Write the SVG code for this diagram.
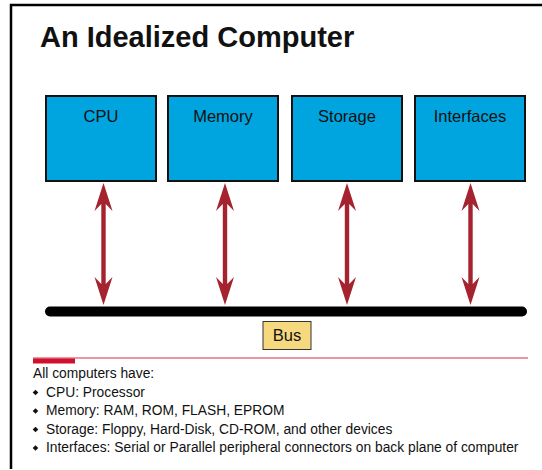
<svg xmlns="http://www.w3.org/2000/svg" xmlns:xlink="http://www.w3.org/1999/xlink" width="542" height="470" viewBox="0 0 542 470">
<style>
text{font-family:"Liberation Sans",Arial,sans-serif;fill:#111}
.title{font-size:29px;font-weight:bold}
.box{fill:#00A4DE;stroke:#111;stroke-width:2}
.lbl{font-size:16.5px;text-anchor:middle}
.arrow{fill:#A5232F}
.note{font-size:13.8px}
.bul{fill:#111}
</style>
<defs>
<path id="dbl" d="M0,183 L9,211 L2.2,204 L2.2,284 L9,277 L0,305 L-9,277 L-2.2,284 L-2.2,204 L-9,211 Z"/>
<path id="dia" d="M0,-2.8 L2.8,0 L0,2.8 L-2.8,0 Z"/>
</defs>
<rect width="542" height="470" fill="#fff"/>
<g id="frame">
<line x1="10" y1="5" x2="542" y2="5" stroke="#000" stroke-width="2.5"/>
<line x1="11" y1="4" x2="11" y2="469" stroke="#000" stroke-width="2.5"/>
</g>
<text class="title" x="40" y="46.5">An Idealized Computer</text>
<g id="connectors">
<use xlink:href="#dbl" class="arrow" x="103.5"/>
<use xlink:href="#dbl" class="arrow" x="225"/>
<use xlink:href="#dbl" class="arrow" x="347"/>
<use xlink:href="#dbl" class="arrow" x="470.5"/>
</g>
<g id="cpu"><rect class="box" x="46" y="96" width="110" height="85"/><text class="lbl" x="101" y="122">CPU</text></g>
<g id="memory"><rect class="box" x="168" y="96" width="110" height="85"/><text class="lbl" x="223" y="122">Memory</text></g>
<g id="storage"><rect class="box" x="292" y="96" width="110" height="85"/><text class="lbl" x="347" y="122">Storage</text></g>
<g id="interfaces"><rect class="box" x="415" y="96" width="110" height="85"/><text class="lbl" x="470" y="122">Interfaces</text></g>
<g id="bus">
<line x1="50" y1="311.5" x2="522" y2="311.5" stroke="#000" stroke-width="10" stroke-linecap="round"/>
<rect x="263" y="321.5" width="48" height="28" fill="#F6D97F" stroke="#333" stroke-width="1"/>
<text class="lbl" x="287" y="341">Bus</text>
</g>
<g id="notes">
<line x1="33" y1="358" x2="528" y2="358" stroke="#E07585" stroke-width="1.3"/>
<rect x="33" y="358.5" width="42" height="5" fill="#D0102E"/>
<text class="note" x="33" y="378">All computers have:</text>
<use xlink:href="#dia" class="bul" x="35.5" y="392.5"/>
<text class="note" x="46" y="396.7">CPU: Processor</text>
<use xlink:href="#dia" class="bul" x="35.5" y="411"/>
<text class="note" x="46" y="415.2">Memory: RAM, ROM, FLASH, EPROM</text>
<use xlink:href="#dia" class="bul" x="35.5" y="429.5"/>
<text class="note" x="46" y="433.7">Storage: Floppy, Hard-Disk, CD-ROM, and other devices</text>
<use xlink:href="#dia" class="bul" x="35.5" y="448"/>
<text class="note" x="46" y="452.2">Interfaces: Serial or Parallel peripheral connectors on back plane of computer</text>
</g>
</svg>
